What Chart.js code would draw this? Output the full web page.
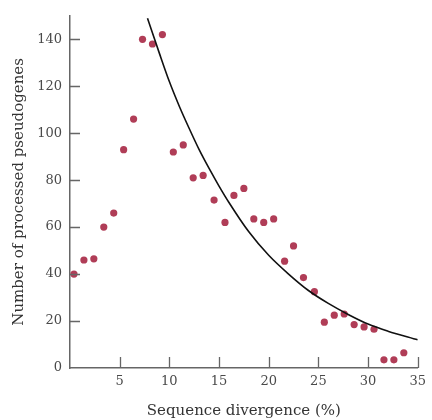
<!DOCTYPE html>
<html>
<head>
<meta charset="utf-8">
<script src="https://cdn.jsdelivr.net/npm/chart.js@4"></script>
<style>
  html, body { margin: 0; padding: 0; background: #fff; }
  #wrap { width: 432px; height: 420px; }
</style>
</head>
<body>
<div id="wrap"><canvas id="c" width="432" height="420"></canvas></div>
<script>
// Observed points: sequence divergence (%) and number of processed pseudogenes
const divergence = [0.4, 1.4, 2.4, 3.4, 4.4, 5.4, 6.4, 7.3, 8.3, 9.3, 10.4, 11.4, 12.4, 13.4, 14.5, 15.6, 16.5, 17.5, 18.5, 19.5, 20.5, 21.6, 22.5, 23.5, 24.6, 25.6, 26.6, 27.6, 28.6, 29.6, 30.6, 31.6, 32.6, 33.6];
const pseudogenes = [40, 46, 46.5, 60, 66, 93, 106, 140, 138, 142, 92, 95, 81, 82, 71.5, 62, 73.5, 76.5, 63.5, 62, 63.5, 45.5, 52, 38.5, 32.5, 19.5, 22.5, 23, 18.5, 17.5, 16.5, 3.5, 3.5, 6.5];

// Curve
const curveX = [7.8, 9, 10, 11, 12, 13, 14, 15, 16, 18, 20, 22, 24, 26, 28, 30, 32, 35];
const curveY = [149, 134, 122, 111.5, 102, 93, 85, 77.5, 70.5, 58, 48, 40, 33, 27.5, 22.8, 18.7, 15.7, 12];

const xTicks = [5, 10, 15, 20, 25, 30, 35];
const yTicks = [0, 20, 40, 60, 80, 100, 120, 140];

const xTitle = 'Sequence divergence (%)';
const yTitle = 'Number of processed pseudogenes';

const axisColor = '#666';
const textColor = '#4a4a4a';
const pointColor = '#b03d57';

const inwardTicks = {
  id: 'inwardTicks',
  afterDraw(chart) {
    const ctx = chart.ctx;
    const xs = chart.scales.x, ys = chart.scales.y;
    ctx.save();
    ctx.strokeStyle = axisColor;
    ctx.lineWidth = 1.3;
    ctx.beginPath();
    xTicks.forEach(v => {
      const px = Math.round(xs.getPixelForValue(v)) + 0.5;
      ctx.moveTo(px, ys.bottom);
      ctx.lineTo(px, ys.bottom - 11);
    });
    yTicks.forEach(v => {
      if (v === 0) return;
      const py = Math.round(ys.getPixelForValue(v)) + 0.5;
      ctx.moveTo(xs.left, py);
      ctx.lineTo(xs.left + 10, py);
    });
    ctx.stroke();
    ctx.restore();
  }
};

new Chart(document.getElementById('c'), {
  type: 'scatter',
  data: {
    datasets: [
      {
        label: 'curve',
        type: 'line',
        data: curveX.map((x, i) => ({ x: x, y: curveY[i] })),
        borderColor: '#111',
        borderWidth: 1.6,
        pointRadius: 0,
        cubicInterpolationMode: 'monotone',
        fill: false,
        order: 1
      },
      {
        label: 'points',
        data: divergence.map((x, i) => ({ x: x, y: pseudogenes[i] })),
        backgroundColor: pointColor,
        borderColor: pointColor,
        borderWidth: 0,
        pointRadius: 3.6,
        order: 2
      }
    ]
  },
  options: {
    responsive: false,
    animation: false,
    devicePixelRatio: 1,
    layout: { padding: { top: 10, right: 5, left: 0, bottom: 0 } },
    plugins: { legend: { display: false }, tooltip: { enabled: false } },
    scales: {
      x: {
        type: 'linear',
        min: 0, max: 35,
        afterBuildTicks: s => { s.ticks = xTicks.map(v => ({ value: v })); },
        afterFit: s => { s.height = 52; },
        grid: { display: false, drawTicks: false },
        border: { display: true, color: axisColor, width: 1.5 },
        ticks: { color: textColor, padding: 6, font: { family: 'DejaVu Serif', size: 13 } },
        title: { display: true, text: xTitle, color: '#333', padding: { top: 8, bottom: 0 }, font: { family: 'DejaVu Serif', size: 15 } }
      },
      y: {
        type: 'linear',
        min: 0, max: 150,
        afterBuildTicks: s => { s.ticks = yTicks.map(v => ({ value: v })); },
        afterFit: s => { s.width = 70; },
        grid: { display: false, drawTicks: false },
        border: { display: true, color: axisColor, width: 1.5 },
        ticks: { color: textColor, padding: 8, font: { family: 'DejaVu Serif', size: 13 } },
        title: { display: true, text: yTitle, color: '#333', padding: { top: 10, bottom: 4 }, font: { family: 'DejaVu Serif', size: 15 } }
      }
    }
  },
  plugins: [inwardTicks]
});
</script>
</body>
</html>
